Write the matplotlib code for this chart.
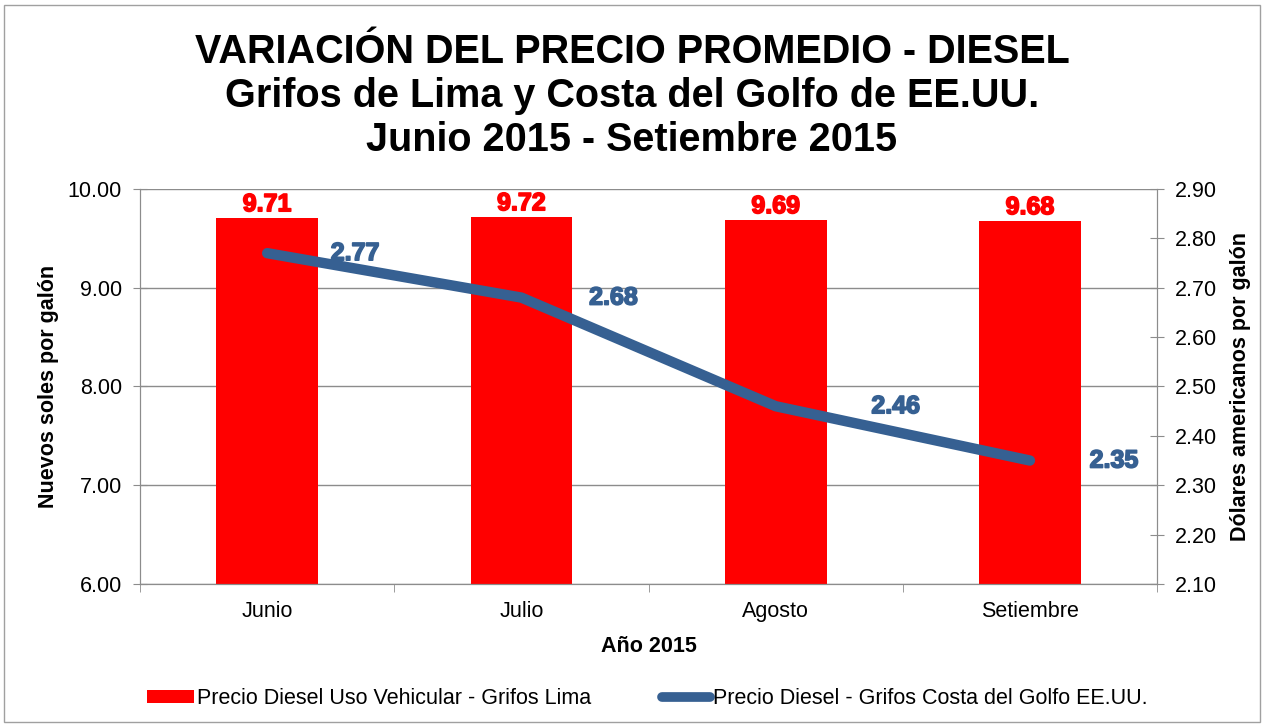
import numpy as np
import matplotlib.pyplot as plt
import matplotlib.patheffects as pe
from matplotlib.patches import Rectangle
from matplotlib.lines import Line2D
from matplotlib.patches import Patch

meses = ["Junio", "Julio", "Agosto", "Setiembre"]
precio_lima = [9.71, 9.72, 9.69, 9.68]
precio_golfo = [2.77, 2.68, 2.46, 2.35]
# desplazamiento horizontal de las etiquetas de la linea (px)
desplaz_golfo = [88, 92, 120, 84]

rojo = "#FF0000"
azul = "#366092"
gris = "#8c8c8c"

plt.rcParams["font.family"] = ["Liberation Sans", "DejaVu Sans"]

fig = plt.figure(figsize=(12.64, 7.24), dpi=100)
fig.patches.append(Rectangle((0.003, 0.003), 0.994, 0.99, transform=fig.transFigure,
                             fill=False, edgecolor="#a0a0a0", linewidth=1))

ax = fig.add_axes([0.1108, 0.1934, 0.8046, 0.5456])
x = np.arange(len(meses))
ax.bar(x, precio_lima, width=0.4, color=rojo, zorder=2)
ax.set_ylim(6, 10)
ax.set_xlim(-0.5, 3.5)
ax.set_yticks(np.arange(6, 10.01, 1))
ax.set_yticklabels([f"{v:.2f}" for v in np.arange(6, 10.01, 1)])
ax.grid(axis="y", color=gris, linewidth=1, zorder=0)
ax.set_axisbelow(True)
ax.set_xticks(x)
ax.set_xticklabels(meses, fontsize=15.5)
ax.set_xticks(np.arange(-0.5, 3.6, 1), minor=True)
ax.tick_params(axis="x", which="major", length=0, pad=12)
ax.tick_params(axis="x", which="minor", length=6, direction="out", color=gris)
ax.tick_params(axis="y", labelsize=15.5, length=10, direction="inout", color=gris, pad=8)
ax.spines["top"].set_visible(False)
for s in ["left", "bottom", "right"]:
    ax.spines[s].set_color(gris)
ax.set_ylabel("Nuevos soles por galón", fontsize=15.5, fontweight="bold", labelpad=6)
ax.set_xlabel("Año 2015", fontsize=15.5, fontweight="bold", labelpad=10)

grueso = [pe.withStroke(linewidth=1.2, foreground=rojo)]
for xi, v in zip(x, precio_lima):
    ax.annotate(f"{v:.2f}", (xi, v), xytext=(0, 1), textcoords="offset points",
                ha="center", va="bottom", color=rojo, fontsize=18, fontweight="bold",
                path_effects=grueso)

ax2 = ax.twinx()
ax2.plot(x, precio_golfo, color=azul, linewidth=7.5, solid_capstyle="round",
         solid_joinstyle="round", zorder=3)
ax2.set_ylim(2.10, 2.90)
ax2.set_yticks(np.arange(2.10, 2.901, 0.1))
ax2.set_yticklabels([f"{v:.2f}" for v in np.arange(2.10, 2.901, 0.1)])
ax2.tick_params(axis="y", labelsize=15.5, length=10, direction="inout", color=gris, pad=8)
ax2.spines["top"].set_visible(False)
for s in ["left", "bottom", "right"]:
    ax2.spines[s].set_color(gris)
ax2.set_ylabel("Dólares americanos por galón", fontsize=15.5, fontweight="bold", labelpad=9)

grueso_az = [pe.withStroke(linewidth=1.2, foreground=azul)]
for xi, v, dx in zip(x, precio_golfo, desplaz_golfo):
    ax2.annotate(f"{v:.2f}", (xi, v), xytext=(dx * 0.72, 0), textcoords="offset points",
                 ha="center", va="center", color=azul, fontsize=18, fontweight="bold",
                 path_effects=grueso_az)

fig.text(0.5, 0.868, "VARIACIÓN DEL PRECIO PROMEDIO - DIESEL\nGrifos de Lima y Costa del Golfo de EE.UU.\nJunio 2015 - Setiembre 2015",
         ha="center", va="center", fontsize=28.5, fontweight="bold", linespacing=1.2)

handles = [Patch(facecolor=rojo, edgecolor="none"),
           Line2D([0], [0], color=azul, linewidth=7, solid_capstyle="round")]
fig.legend(handles, ["Precio Diesel Uso Vehicular - Grifos Lima",
                     "Precio Diesel - Grifos Costa del Golfo EE.UU."],
           loc="center", bbox_to_anchor=(0.512, 0.035), ncol=2, frameon=False,
           fontsize=15.5, handlelength=2.2, handleheight=0.6, handletextpad=0.15,
           columnspacing=3.3)

fig.savefig("out.png", dpi=100)
